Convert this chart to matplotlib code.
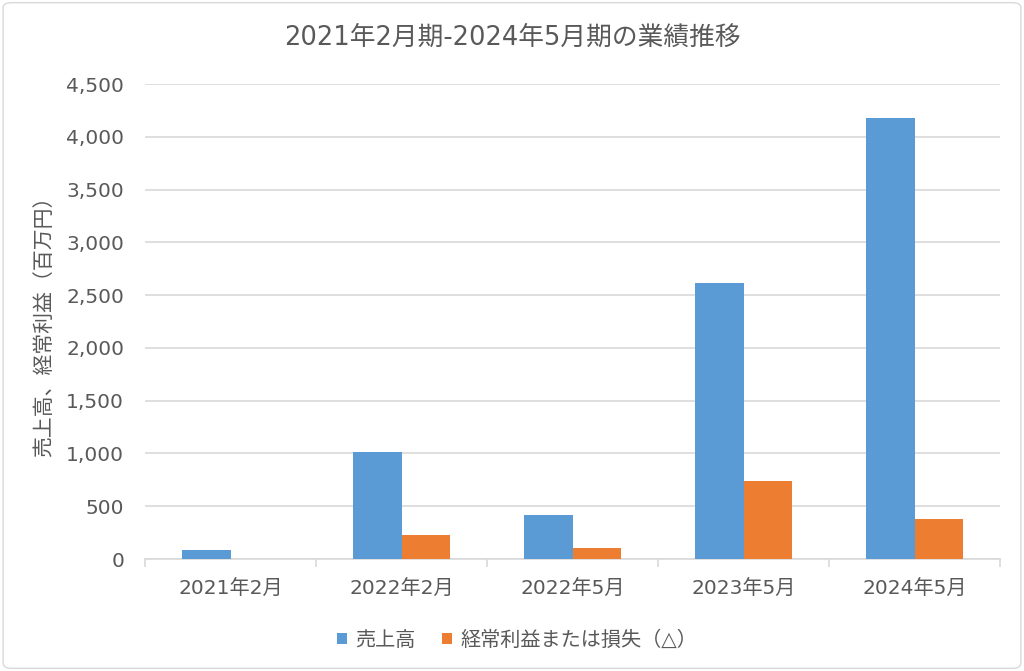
import matplotlib.pyplot as plt
import numpy as np
from matplotlib.patches import FancyBboxPatch

# wide DejaVu digits (close to Meiryo), CJK falls back to Noto
plt.rcParams['font.family'] = ['DejaVu Sans', 'Noto Sans CJK JP']

# Data (百万円)
periods = ['2021年2月', '2022年2月', '2022年5月', '2023年5月', '2024年5月']
sales = [85, 1015, 415, 2615, 4175]
ordinary_profit = [0, 225, 105, 740, 380]

title = '2021年2月期-2024年5月期の業績推移'
ylabel = '売上高、経常利益（百万円）'
series_names = ['売上高', '経常利益または損失（△）']

blue = '#5B9BD5'
orange = '#ED7D31'
text_color = '#595959'
grid_color = '#D9D9D9'

fig = plt.figure(figsize=[10.24, 6.71], dpi=100)
ax = fig.add_axes([0.1416, 0.1669, 0.835, 0.7079])

x = np.arange(len(periods))
w = 0.285
ax.bar(x - w / 2, sales, w, color=blue, label=series_names[0], zorder=3)
ax.bar(x + w / 2, ordinary_profit, w, color=orange, label=series_names[1], zorder=3)

ax.set_xlim(-0.5, len(periods) - 0.5)
ax.set_ylim(0, 4500)
ax.set_yticks(np.arange(0, 4501, 500))
ax.set_yticklabels(['{:,}'.format(v) for v in range(0, 4501, 500)])
ax.yaxis.grid(True, color=grid_color, linewidth=1.2, zorder=0)
ax.set_axisbelow(True)

ax.set_xticks(x)
ax.set_xticklabels(periods)
ax.set_xticks(np.arange(-0.5, len(periods), 1), minor=True)
ax.tick_params(axis='x', which='major', length=0, pad=15, labelsize=14.5, labelcolor=text_color)
ax.tick_params(axis='x', which='minor', length=6, color=grid_color, width=1.2)
ax.tick_params(axis='y', length=0, pad=15, labelsize=14.5, labelcolor=text_color)

for s in ['top', 'right', 'left']:
    ax.spines[s].set_visible(False)
ax.spines['bottom'].set_color(grid_color)
ax.spines['bottom'].set_linewidth(1.2)

ax.set_ylabel(ylabel, fontsize=15, color=text_color)
ax.yaxis.set_label_coords(-0.106, 0.5)
fig.text(0.5, 0.943, title, ha='center', va='center', fontsize=18.5, color=text_color)

fig.legend(loc='center', bbox_to_anchor=(0.505, 0.046), ncol=2, frameon=False,
           fontsize=14.5, labelcolor=text_color, handlelength=0.5, handleheight=0.5,
           handletextpad=0.4, columnspacing=1.3)

border = FancyBboxPatch((0.003, 0.004), 0.994, 0.992, boxstyle='round,pad=0,rounding_size=0.008',
                        transform=fig.transFigure, fill=False, edgecolor='#D9D9D9', linewidth=1)
fig.patches.append(border)

plt.savefig('out.png', dpi=100)
plt.close()
